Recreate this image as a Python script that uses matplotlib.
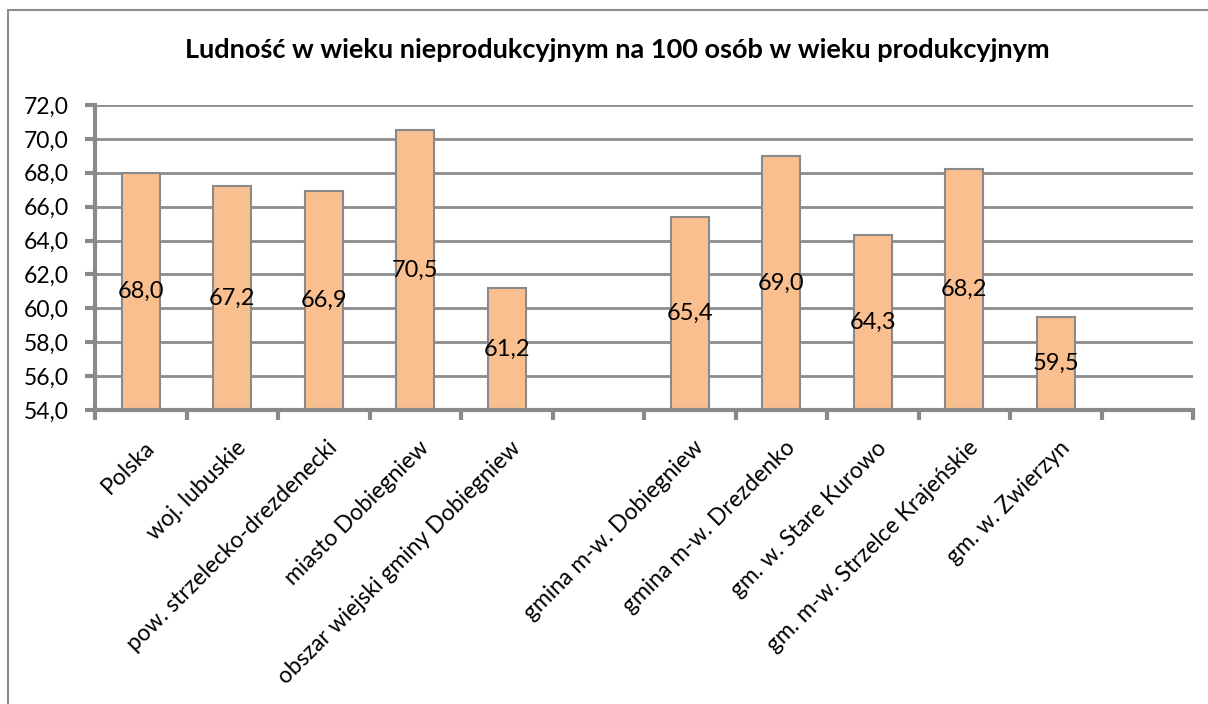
#!/usr/bin/env python3

import numpy as np
import matplotlib
matplotlib.use('Agg')
import matplotlib.pyplot as plt
from matplotlib.patches import Rectangle
from matplotlib.ticker import FuncFormatter, FixedLocator, NullFormatter
from matplotlib.transforms import ScaledTranslation

# Data (empty slots are gaps in the original chart)
CATEGORIES = ['Polska', 'woj. lubuskie', 'pow. strzelecko-drezdenecki', 'miasto Dobiegniew',
              'obszar wiejski gminy Dobiegniew', '',
              'gmina m-w. Dobiegniew', 'gmina m-w. Drezdenko', 'gm. w. Stare Kurowo',
              'gm. m-w. Strzelce Krajeńskie', 'gm. w. Zwierzyn', '']
VALUES = [68.0, 67.2, 66.9, 70.5, 61.2, np.nan, 65.4, 69.0, 64.3, 68.2, 59.5, np.nan]
Y_TICKS = [54, 56, 58, 60, 62, 64, 66, 68, 70, 72]
TITLE = 'Ludność w wieku nieprodukcyjnym na 100 osób w wieku produkcyjnym'

BAR_COLOR = '#F9BF8F'
EDGE_COLOR = '#8A8A8A'
GRID_COLOR = '#8C8C8C'

W, H = 1208, 704


def comma_fmt(v, _pos):
    return f'{v:.1f}'.replace('.', ',')


def main():
    plt.rcParams['font.family'] = ['Lato', 'DejaVu Sans']
    fig = plt.figure(figsize=(W / 100, H / 100), dpi=100)

    # outer chart frame
    fig.patches.append(Rectangle((8 / W, -0.05), 1.2, (H - 10) / H + 0.05, transform=fig.transFigure,
                                 fill=False, edgecolor='#8C8C8C', linewidth=1.5))

    ax = fig.add_axes([95 / W, (H - 410) / H, (1193 - 95) / W, (410 - 105) / H])
    x = np.arange(len(CATEGORIES))
    vals = np.array(VALUES)
    bars = ax.bar(x, np.nan_to_num(vals - 54, nan=0), bottom=54, width=0.41,
                  color=BAR_COLOR, edgecolor=EDGE_COLOR, linewidth=1.5, zorder=3)
    for xi, v, b in zip(x, vals, bars):
        if np.isnan(v):
            b.set_visible(False)
            continue
        ax.text(xi, (54 + v) / 2, comma_fmt(v, None), ha='center', va='center',
                fontsize=17, color='black', zorder=4)

    ax.set_xlim(-0.5, len(CATEGORIES) - 0.5)
    ax.set_ylim(54, 72)
    ax.set_yticks(Y_TICKS)
    ax.yaxis.set_major_formatter(FuncFormatter(comma_fmt))
    ax.grid(axis='y', color=GRID_COLOR, linewidth=2, zorder=0)

    ax.set_xticks(x)
    ax.xaxis.set_major_formatter(NullFormatter())
    # rotated category labels, top-right corner hanging just below the slot centre
    tr = ax.get_xaxis_transform() + ScaledTranslation(0.03, -0.27, fig.dpi_scale_trans)
    for xi, name in zip(x, CATEGORIES):
        if not name:
            continue
        ax.text(xi, 0, name, transform=tr, rotation=45, rotation_mode='anchor',
                ha='right', va='top', fontsize=16.5, clip_on=False)
    ax.xaxis.set_minor_locator(FixedLocator(np.arange(len(CATEGORIES) + 1) - 0.5))
    ax.tick_params(axis='x', which='major', length=0)
    ax.tick_params(axis='x', which='minor', length=7, width=3, color=EDGE_COLOR)
    ax.tick_params(axis='y', length=7, width=3, color=EDGE_COLOR, labelsize=16.5, pad=12)

    for side in ('top', 'right'):
        ax.spines[side].set_visible(False)
    for side in ('left', 'bottom'):
        ax.spines[side].set_color(EDGE_COLOR)
        ax.spines[side].set_linewidth(3)
        ax.spines[side].set_zorder(5)

    fig.text(617 / W, 1 - 50 / H, TITLE, ha='center', va='center', fontsize=19.5, fontweight='bold')

    fig.savefig('out.png', dpi=100)


if __name__ == '__main__':
    main()
